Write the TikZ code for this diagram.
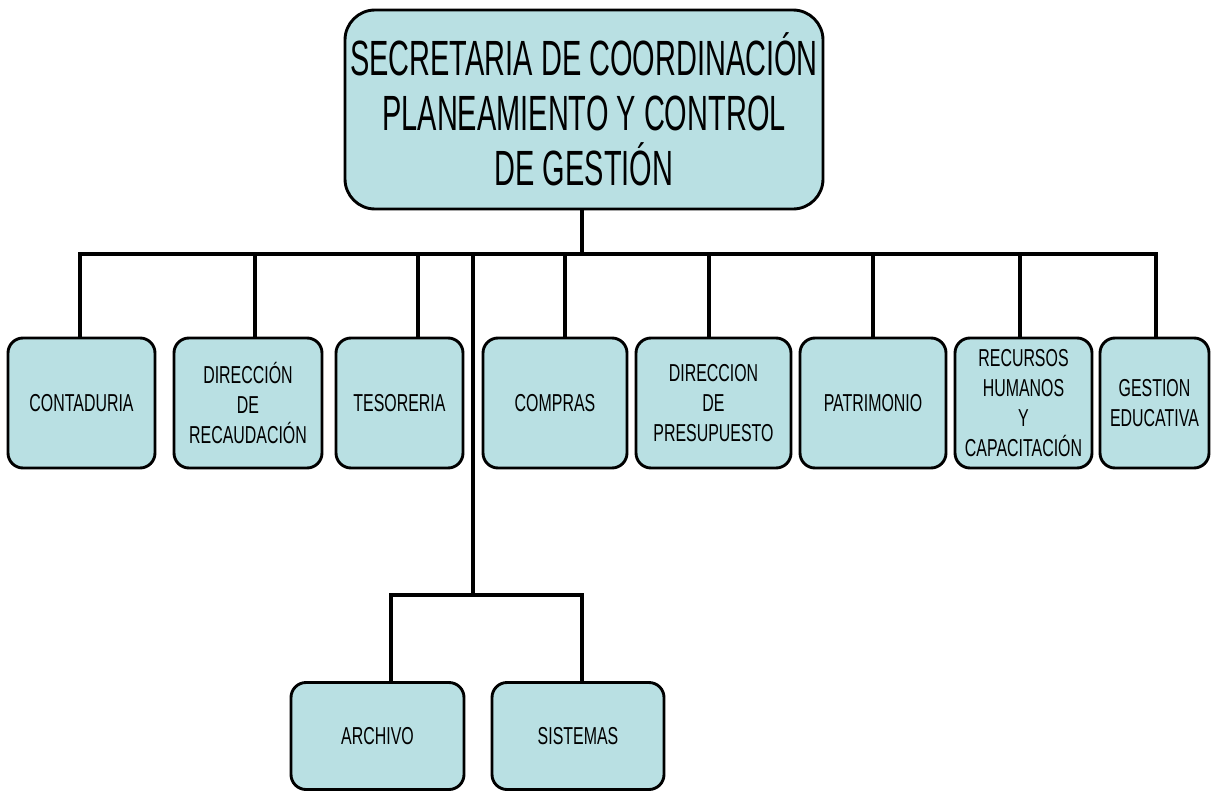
\documentclass[tikz,border=0pt]{standalone}
\usepackage{fontspec}
\newfontfamily\topfont[FakeStretch=0.585]{Liberation Sans}
\newfontfamily\boxfont[FakeStretch=0.65]{Liberation Sans}
\definecolor{boxfill}{RGB}{185,224,227}
\begin{document}
\begin{tikzpicture}[x=1pt,y=-1pt,
  unit/.style={draw=black, line width=2.9pt, fill=boxfill, rounded corners=15pt,
    minimum height=130pt, inner sep=0pt, align=center,
    font=\boxfont\fontsize{24.5}{30}\selectfont},
  link/.style={line width=3.2pt, line cap=rect, line join=miter}]
\useasboundingbox (0,0) rectangle (1212,792);

\node[unit, rounded corners=30pt, minimum width=478pt, minimum height=199pt,
  font=\topfont\fontsize{49.5}{55}\selectfont] (top) at (584,109.5)
  {SECRETARIA DE COORDINACIÓN\\PLANEAMIENTO Y CONTROL\\DE GESTIÓN};

\node[unit, minimum width=147pt] (b1) at (81.5,403) {CONTADURIA};
\node[unit, minimum width=148pt] (b2) at (248,403) {DIRECCIÓN\\DE\\RECAUDACIÓN};
\node[unit, minimum width=127pt] (b3) at (399.5,403) {TESORERIA};
\node[unit, minimum width=144pt] (b4) at (555,403) {COMPRAS};
\node[unit, minimum width=155pt] (b5) at (713.5,403) {DIRECCION\\DE\\PRESUPUESTO};
\node[unit, minimum width=146pt] (b6) at (873,403) {PATRIMONIO};
\node[unit, minimum width=137pt] (b7) at (1023.5,403) {RECURSOS\\HUMANOS\\Y\\CAPACITACIÓN};
\node[unit, minimum width=109pt] (b8) at (1154.5,403) {GESTION\\EDUCATIVA};

\node[unit, minimum width=173pt, minimum height=107pt] (a1) at (377.5,736) {ARCHIVO};
\node[unit, minimum width=172pt, minimum height=107pt] (a2) at (578,736) {SISTEMAS};

\coordinate (busL) at (80,254);
\coordinate (busR) at (1156,254);
\coordinate (hub) at (473,595);

\draw[link] (busL) -- (busR);
\draw[link] ([xshift=-2pt]top.south) -- ([xshift=-2pt]top.south |- busL);
\draw[link] ([xshift=-1.5pt]b1.north) -- ([xshift=-1.5pt]b1.north |- busL);
\draw[link] ([xshift=7pt]b2.north) -- ([xshift=7pt]b2.north |- busL);
\draw[link] ([xshift=18.5pt]b3.north) -- ([xshift=18.5pt]b3.north |- busL);
\draw[link] ([xshift=10pt]b4.north) -- ([xshift=10pt]b4.north |- busL);
\draw[link] ([xshift=-4.5pt]b5.north) -- ([xshift=-4.5pt]b5.north |- busL);
\draw[link] (b6.north) -- (b6.north |- busL);
\draw[link] ([xshift=-3.5pt]b7.north) -- ([xshift=-3.5pt]b7.north |- busL);
\draw[link] ([xshift=1.5pt]b8.north) -- ([xshift=1.5pt]b8.north |- busL);

\draw[link] (hub |- busL) -- (hub);
\draw[link] ([xshift=13.5pt]a1.north) |- (hub) -| ([xshift=4pt]a2.north);
\end{tikzpicture}
\end{document}
